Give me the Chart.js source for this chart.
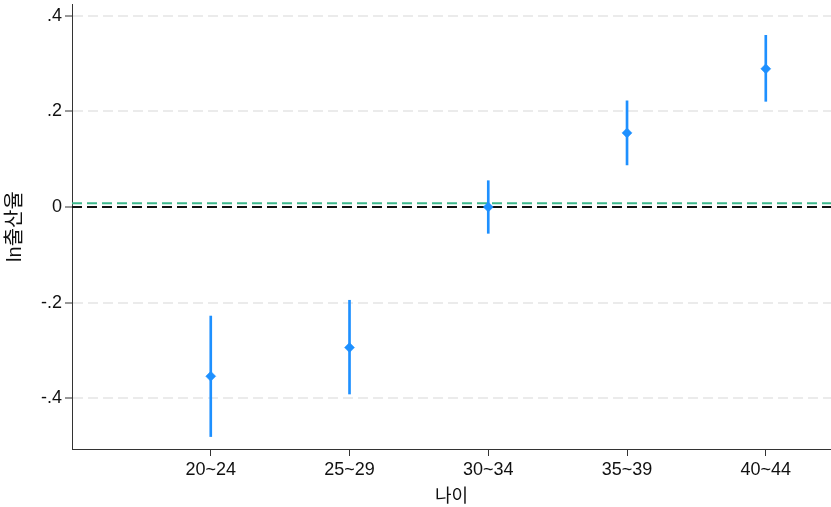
<!DOCTYPE html>
<html>
<head>
<meta charset="utf-8">
<script src="https://cdn.jsdelivr.net/npm/chart.js@4/dist/chart.umd.min.js"></script>
<style>
  html, body { margin: 0; padding: 0; background: #fff; }
  #wrap { width: 831px; height: 507px; }
</style>
</head>
<body>
<div id="wrap"><canvas id="c" width="831" height="507"></canvas></div>
<script>
// Age groups and estimated coefficients (ln birth rate) with 95% CIs
const ageGroups = ['20~24', '25~29', '30~34', '35~39', '40~44'];
const coef      = [-0.354, -0.294, 0.000, 0.155, 0.289];
const ciLow     = [-0.480, -0.391, -0.055, 0.088, 0.221];
const ciHigh    = [-0.228, -0.195, 0.055, 0.222, 0.359];

// Reference lines
const zeroLine = 0;
const meanLine = 0.008;

// Axis ticks
const yTicks      = [-0.4, -0.2, 0, 0.2, 0.4];
const yTickLabels = ['-.4', '-.2', '0', '.2', '.4'];
const xRange = [0, 5.47];
const yRange = [-0.506, 0.4245];

const blue = 'rgb(30,144,255)';
const latinFont = "'Liberation Sans', Arial, 'Noto Sans CJK KR', sans-serif";

const pos = ageGroups.map((_, i) => i + 1);

const ctx = document.getElementById('c').getContext('2d');
new Chart(ctx, {
  type: 'bar',
  data: {
    datasets: [
      {
        type: 'line',
        label: 'coef',
        data: pos.map((p, i) => ({ x: p, y: coef[i] })),
        showLine: false,
        pointStyle: 'rectRot',
        pointRadius: 5,
        pointBorderWidth: 0.5,
        pointBackgroundColor: blue,
        pointBorderColor: blue,
        order: 0
      },
      {
        type: 'bar',
        label: 'ci',
        data: pos.map((p, i) => ({ x: p, y: [ciLow[i], ciHigh[i]] })),
        backgroundColor: blue,
        borderWidth: 0,
        barThickness: 2,
        order: 1
      },
      {
        type: 'line',
        label: 'mean',
        data: [{ x: xRange[0], y: meanLine }, { x: xRange[1], y: meanLine }],
        borderColor: 'rgb(60,184,140)',
        borderWidth: 2,
        borderDash: [10, 5],
        pointRadius: 0,
        order: 2
      },
      {
        type: 'line',
        label: 'zero',
        data: [{ x: xRange[0], y: zeroLine }, { x: xRange[1], y: zeroLine }],
        borderColor: '#111',
        borderWidth: 2,
        borderDash: [10, 5],
        pointRadius: 0,
        order: 3
      }
    ]
  },
  options: {
    responsive: false,
    animation: false,
    devicePixelRatio: 1,
    layout: { autoPadding: false, padding: { top: 4, right: 0, left: 0, bottom: 0 } },
    plugins: { legend: { display: false }, tooltip: { enabled: false } },
    scales: {
      x: {
        type: 'linear',
        offset: false,
        min: xRange[0],
        max: xRange[1],
        afterBuildTicks: s => { s.ticks = pos.map(v => ({ value: v })); },
        afterFit: s => { s.height = 58; s.paddingLeft = 0; s.paddingRight = 0; },
        ticks: {
          autoSkip: false,
          maxRotation: 0,
          padding: 3,
          color: '#111',
          font: { family: latinFont, size: 18 },
          callback: (v) => ageGroups[Math.round(v) - 1] || ''
        },
        grid: { offset: false, drawOnChartArea: false, drawTicks: true, tickLength: 7, tickColor: '#333', tickWidth: 1 },
        border: { display: true, color: '#333', width: 1 },
        title: {
          display: true,
          text: '나이',
          color: '#111',
          font: { family: latinFont, size: 18, lineHeight: 1 },
          padding: { top: 0, bottom: 1 }
        }
      },
      y: {
        type: 'linear',
        min: yRange[0],
        max: yRange[1],
        afterBuildTicks: s => { s.ticks = yTicks.map(v => ({ value: v })); },
        afterFit: s => { s.width = 72; s.paddingTop = 0; s.paddingBottom = 0; },
        ticks: {
          padding: 3,
          color: '#111',
          font: { family: latinFont, size: 18 },
          callback: (v) => {
            const k = yTicks.findIndex(t => Math.abs(t - v) < 1e-9);
            return k >= 0 ? yTickLabels[k] : '';
          }
        },
        grid: {
          drawOnChartArea: true,
          drawTicks: true,
          tickLength: 7,
          tickColor: '#333',
          tickWidth: 1,
          lineWidth: 2,
          color: c => (c.tick && Math.abs(c.tick.value) < 1e-9) ? 'rgba(0,0,0,0)' : '#ebebeb'
        },
        border: { display: true, color: '#333', width: 1, dash: [10, 5] },
        title: {
          display: true,
          text: 'ln출산율',
          color: '#111',
          font: { family: latinFont, size: 20, lineHeight: 1.2 },
          padding: { top: 3, bottom: 0 }
        }
      }
    }
  }
});
</script>
</body>
</html>
